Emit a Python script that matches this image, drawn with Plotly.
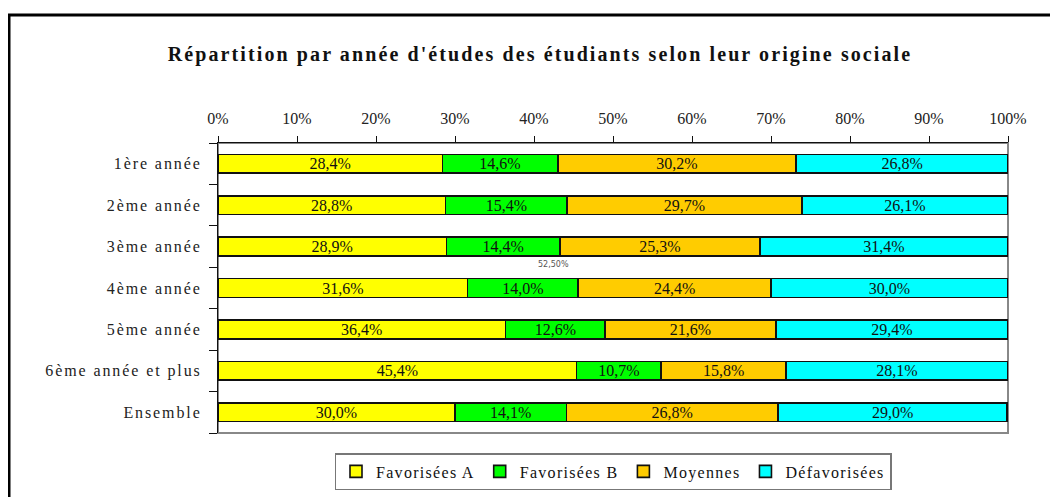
import plotly.graph_objects as go

categories = ["1ère année", "2ème année", "3ème année", "4ème année",
              "5ème année", "6ème année et plus", "Ensemble"]
series_names = ["Favorisées A", "Favorisées B", "Moyennes", "Défavorisées"]
fav_a = [28.4, 28.8, 28.9, 31.6, 36.4, 45.4, 30.0]
fav_b = [14.6, 15.4, 14.4, 14.0, 12.6, 10.7, 14.1]
moyennes = [30.2, 29.7, 25.3, 24.4, 21.6, 15.8, 26.8]
defav = [26.8, 26.1, 31.4, 30.0, 29.4, 28.1, 29.0]
colors = ["#FFFF00", "#00FF00", "#FFCC00", "#00FFFF"]
tick_vals = [0, 10, 20, 30, 40, 50, 60, 70, 80, 90, 100]
tick_text = [f"{v}%" for v in tick_vals]

SERIF = "Liberation Serif, Times New Roman, serif"
SP = '<span style="letter-spacing:1.9px">{}</span>'
SPL = '<span style="letter-spacing:1.3px">{}</span>'

fig = go.Figure()
for name, vals, col in zip(series_names, [fav_a, fav_b, moyennes, defav], colors):
    fig.add_trace(go.Bar(
        y=categories, x=vals, name=SPL.format(name), orientation="h",
        marker=dict(color=col, line=dict(color="#111111", width=1.6)),
        text=[f"{v:.1f}".replace(".", ",") + "%" for v in vals],
        textposition="inside", insidetextanchor="middle",
        textfont=dict(family=SERIF, size=16, color="#111111"),
        constraintext="none", width=0.45, hoverinfo="skip",
    ))

# page body has an 8px margin: work in window coordinates, shift by OFF
OFF = 8
W, H = 1058 - OFF, 497 - OFF
L, R, T, B = 218 - OFF, 1008 - OFF, 143 - OFF, 433 - OFF
pw, ph = R - L, B - T

def px(x):
    return (x - OFF - L) / pw

def py(y):
    return (B - (y - OFF)) / ph

fig.update_layout(
    width=W, height=H, barmode="stack",
    margin=dict(l=L, r=W - R, t=T, b=H - B, autoexpand=False),
    paper_bgcolor="white", plot_bgcolor="white",
    title=dict(text='<b><span style="letter-spacing:2.1px">Répartition par année d\'études des étudiants selon leur origine sociale</span></b>',
               x=(540 - OFF) / W, xanchor="center", xref="container",
               y=1 - (54 - OFF) / H, yanchor="middle", yref="container",
               font=dict(family=SERIF, size=20, color="#111111")),
    xaxis=dict(range=[0, 100], side="top", tickvals=tick_vals, ticktext=tick_text,
               ticks="outside", ticklen=6, tickcolor="#111111", showgrid=False,
               zeroline=False, showline=True, linecolor="#111111", linewidth=1.2,
               ticklabelstandoff=6, automargin=False,
               tickfont=dict(family=SERIF, size=16, color="#222222"), fixedrange=True),
    yaxis=dict(autorange="reversed", type="category", tickson="boundaries",
               tickvals=categories, ticktext=[SP.format(c) for c in categories],
               ticks="outside", ticklen=8, tickcolor="#111111", showgrid=False,
               showline=True, linecolor="#111111", linewidth=1.2,
               ticklabelstandoff=12, automargin=False,
               tickfont=dict(family=SERIF, size=16, color="#222222"), fixedrange=True),
    legend=dict(orientation="h", x=(613 - OFF) / W, xanchor="center", xref="container",
                y=1 - (453 - OFF) / H, yanchor="top", yref="container",
                bordercolor="#777777", borderwidth=1.5,
                font=dict(family=SERIF, size=16, color="#111111"),
                itemwidth=30, traceorder="normal"),
    showlegend=True,
    shapes=[
        dict(type="rect", xref="paper", yref="paper", x0=0, x1=1, y0=0, y1=1,
             line=dict(color="#888888", width=2), layer="below"),
        dict(type="rect", xref="paper", yref="paper",
             x0=px(9), x1=px(1080), y0=py(520), y1=py(15),
             line=dict(color="#000000", width=3), fillcolor="rgba(0,0,0,0)"),
    ],
    annotations=[
        dict(text="52,50%", xref="paper", yref="paper", x=px(553), y=py(264),
             showarrow=False, font=dict(family="DejaVu Sans, sans-serif", size=8, color="#555555")),
    ],
)

fig.write_html("out.html")
